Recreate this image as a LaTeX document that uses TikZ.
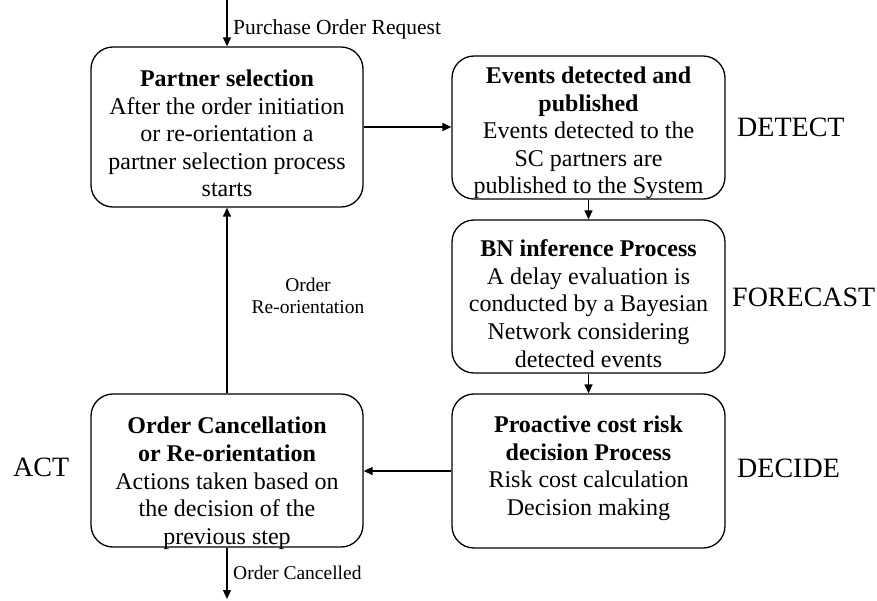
\documentclass[tikz,border=0pt]{standalone}
\usepackage{fontspec}
\setmainfont{Liberation Serif}
\usetikzlibrary{arrows.meta}
\begin{document}
\begin{tikzpicture}[x=1pt,y=-1pt,
  procbox/.style={draw, line width=1.3pt, rounded corners=22pt, inner sep=0pt},
  boxtxt/.style={align=center, inner sep=0pt, anchor=north, font=\fontsize{24}{27.6}\selectfont},
  phase/.style={inner sep=0pt, anchor=base west, font=\fontsize{28}{32}\selectfont},
  edgelbl/.style={inner sep=0pt, font=\fontsize{21.5}{21}\selectfont},
  smalllbl/.style={inner sep=0pt, font=\fontsize{19.5}{22}\selectfont},
  flow/.style={line width=1.3pt, -{Triangle[length=9pt,width=8pt]}}]
\useasboundingbox (0,0) rectangle (877,600);
% boxes
\node[procbox, minimum width=272pt, minimum height=160pt] (ps) at (227,127) {};
\node[procbox, minimum width=273pt, minimum height=143pt] (ev) at (588.5,127.5) {};
\node[procbox, minimum width=273pt, minimum height=153pt] (bn) at (588.5,296.5) {};
\node[procbox, minimum width=273pt, minimum height=154pt] (pc) at (588.5,471) {};
\node[procbox, minimum width=272pt, minimum height=153pt] (oc) at (227,470.5) {};
% box texts
\node[boxtxt] (pst) at (227,69.6) {\textbf{Partner selection}\\After the order initiation\\or re-orientation a\\partner selection process\\starts};
\node[boxtxt] (evt) at (588.5,66.6) {\textbf{Events detected and}\\\textbf{published}\\Events detected to the\\SC partners are\\published to the System};
\node[boxtxt] (bnt) at (588.5,239.6) {\textbf{BN inference Process}\\A delay evaluation is\\conducted by a Bayesian\\Network considering\\detected events};
\node[boxtxt] (pct) at (588.5,415.6) {\textbf{Proactive cost risk}\\\textbf{decision Process}\\Risk cost calculation\\Decision making};
\node[boxtxt] (oct) at (227,417.1) {\textbf{Order Cancellation}\\\textbf{or Re-orientation}\\Actions taken based on\\the decision of the\\previous step};
% phase labels
\node[phase] (det) at (737,136) {DETECT};
\node[phase] (fc) at (732,306) {FORECAST};
\node[phase] (dec) at (737,477) {DECIDE};
\node[phase] (act) at (13,476) {ACT};
% connectors
\coordinate (in) at (227,0);
\coordinate (out) at (227,599);
\draw[flow] (in) -- (ps.north);
\draw[flow] (ps.east) -- (ps.east -| ev.west);
\draw[flow] (ev.south) -- (bn.north);
\draw[flow] (bn.south) -- (pc.north);
\draw[flow] (pc.west) -- (pc.west -| oc.east);
\draw[flow] (oc.north) -- (ps.south);
\draw[flow] (oc.south) -- (out);
% connector labels
\node[edgelbl, anchor=base west] (pol) at (233,34) {Purchase Order Request};
\node[smalllbl, anchor=base west] (ocl) at (233,579) {Order Cancelled};
\node[smalllbl, align=center, anchor=north] (ror) at (308,278) {Order\\Re-orientation};
\end{tikzpicture}
\end{document}
